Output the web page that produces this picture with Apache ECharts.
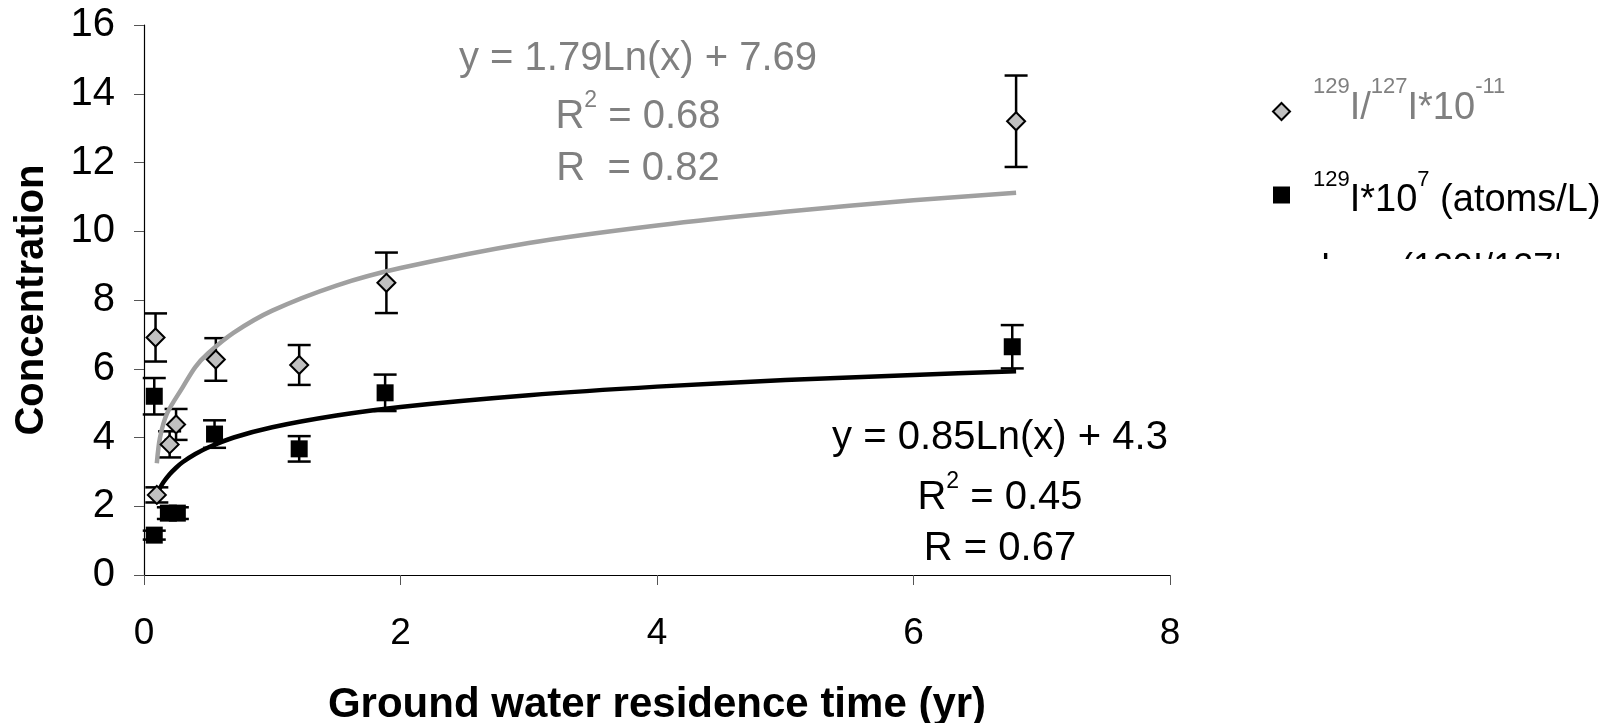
<!DOCTYPE html>
<html>
<head>
  <meta charset="utf-8">
  <title>ECharts</title>
  <script src="https://cdn.jsdelivr.net/npm/echarts@6.0.0/dist/echarts.min.js"></script>
  <style>
    body { margin: 0; background: #fff; }
  </style>
</head>
<body>
<div id="main" style="width: 1614px;height:723px;"></div>
<script type="text/javascript">
  // 129I/127I ratio (x 1e-11), grey diamonds
  var ratioX = [0.09, 0.10, 0.20, 0.25, 0.56, 1.21, 1.89, 6.80];
  var ratioY = [6.91, 2.33, 3.80, 4.38, 6.27, 6.11, 8.50, 13.20];
  var ratioErr = [0.70, 0.22, 0.38, 0.45, 0.62, 0.58, 0.88, 1.33];

  // 129I concentration (x 1e7 atoms/L), black squares
  var atomsX = [0.08, 0.08, 0.19, 0.26, 0.55, 1.21, 1.88, 6.77];
  var atomsY = [5.20, 1.16, 1.80, 1.80, 4.10, 3.67, 5.30, 6.64];
  var atomsErr = [0.53, 0.13, 0.17, 0.17, 0.40, 0.37, 0.53, 0.63];

  // log trendlines
  var grayTrendX = [0.1, 0.125, 0.18, 0.3, 0.4, 0.5, 0.7, 1, 1.5, 2, 3, 4, 5, 6, 6.8];
  var grayTrendY = [3.25, 4.0, 4.7, 5.45, 6.05, 6.45, 7.05, 7.69, 8.42, 8.93, 9.66, 10.17, 10.57, 10.9, 11.12];
  var blackTrendX = [0.1, 0.12, 0.15, 0.2, 0.25, 0.3, 0.4, 0.5, 0.7, 1, 1.5, 2, 3, 4, 5, 6, 6.8];
  var blackTrendY = [2.35, 2.5, 2.69, 2.93, 3.12, 3.28, 3.52, 3.71, 4.0, 4.3, 4.64, 4.89, 5.23, 5.48, 5.67, 5.82, 5.93];

  var xTicks = [0, 2, 4, 6, 8];
  var yTicks = [0, 2, 4, 6, 8, 10, 12, 14, 16];

  var FONT = 'Liberation Sans, Arial, sans-serif';
  var RATIO = '129I/127I*10-11';
  var ATOMS = '129I*107 (atoms/L)';

  function zip(xs, ys, es) {
    return xs.map(function (x, i) { return es ? [x, ys[i], es[i]] : [x, ys[i]]; });
  }

  function errRender(params, api) {
    var x = api.value(0), y = api.value(1), e = api.value(2);
    var hi = api.coord([x, y + e]);
    var lo = api.coord([x, y - e]);
    var w = 11.5;
    var st = { stroke: '#000', lineWidth: 2.5 };
    return {
      type: 'group',
      children: [
        { type: 'line', shape: { x1: hi[0], y1: hi[1], x2: lo[0], y2: lo[1] }, style: st },
        { type: 'line', shape: { x1: hi[0] - w, y1: hi[1], x2: hi[0] + w, y2: hi[1] }, style: st },
        { type: 'line', shape: { x1: lo[0] - w, y1: lo[1], x2: lo[0] + w, y2: lo[1] }, style: st }
      ]
    };
  }

  var supRich = {
    m: { fontSize: 40, lineHeight: 56, fontFamily: FONT },
    s: { fontSize: 23, lineHeight: 23, verticalAlign: 'top', fontFamily: FONT }
  };

  function note(txt, x, y, color) {
    return {
      type: 'text', x: x, y: y, z: 50,
      style: {
        text: txt, align: 'center', verticalAlign: 'middle',
        fill: color, fontSize: 40, fontFamily: FONT, rich: supRich
      }
    };
  }

  var myChart = echarts.init(document.getElementById('main'));

  var option = {
    animation: false,
    grid: { left: 144, right: 444, top: 25, bottom: 148, outerBoundsMode: 'none', containLabel: false },
    xAxis: {
      type: 'value', min: xTicks[0], max: xTicks[xTicks.length - 1], interval: 2,
      name: 'Ground water residence time (yr)', nameLocation: 'middle', nameGap: 109,
      nameTextStyle: { fontSize: 42, fontWeight: 'bold', fontFamily: FONT, color: '#000' },
      axisLine: { lineStyle: { color: '#000', width: 1.2 } },
      axisTick: { length: 10, lineStyle: { color: '#555' } },
      axisLabel: { fontSize: 37, fontFamily: FONT, color: '#000', margin: 40 },
      splitLine: { show: false }
    },
    yAxis: {
      type: 'value', min: yTicks[0], max: yTicks[yTicks.length - 1], interval: 2,
      name: 'Concentration', nameLocation: 'middle', nameGap: 92, nameRotate: 90,
      nameTextStyle: { fontSize: 40, fontWeight: 'bold', fontFamily: FONT, color: '#000' },
      axisLine: { show: true, lineStyle: { color: '#000', width: 1.2 } },
      axisTick: { show: true, length: 10, lineStyle: { color: '#555' } },
      axisLabel: { fontSize: 40, fontFamily: FONT, color: '#000', margin: 29 },
      splitLine: { show: false }
    },
    legend: {
      orient: 'vertical', left: 1267, top: 71, itemGap: 41,
      itemWidth: 17, itemHeight: 17, selectedMode: false,
      data: [
        { name: RATIO, textStyle: { color: '#808080', padding: [0, 0, 6, 18] } },
        { name: ATOMS, textStyle: { color: '#000', padding: [12, 0, 0, 18] } }
      ],
      formatter: function (name) {
        if (name === RATIO) return '{s|129}{m|I/}{s|127}{m|I*10}{s|-11}';
        return '{s|129}{m|I*10}{s|7}{m| (atoms/L)}';
      },
      textStyle: {
        fontSize: 38, fontFamily: FONT, padding: [0, 0, 0, 18],
        rich: {
          m: { fontSize: 38, lineHeight: 65, fontFamily: FONT },
          s: { fontSize: 22, lineHeight: 36, verticalAlign: 'top', fontFamily: FONT }
        }
      }
    },
    graphic: [
      note('y = 1.79Ln(x) + 7.69', 638, 59, '#808080'),
      note('{m|R}{s|2}{m| = 0.68}', 638, 117, '#808080'),
      note('R  = 0.82', 638, 169, '#808080'),
      note('y = 0.85Ln(x) + 4.3', 1000, 438, '#000'),
      note('{m|R}{s|2}{m| = 0.45}', 1000, 498, '#000'),
      note('R = 0.67', 1000, 549, '#000'),
      {
        type: 'text', x: 1321, y: 269, z: 50,
        style: { text: 'Log. (129I/127I*10-11)', align: 'left', verticalAlign: 'middle',
                 fill: '#000', fontSize: 36, fontFamily: FONT }
      },
      {
        type: 'rect', z: 60, shape: { x: 1290, y: 259, width: 330, height: 60 },
        style: { fill: '#fff' }
      },
      {
        type: 'rect', z: 60, shape: { x: 1559, y: 235, width: 60, height: 30 },
        style: { fill: '#fff' }
      }
    ],
    series: [
      {
        name: 'ratioErr', type: 'custom', z: 1, silent: true,
        renderItem: errRender, encode: { x: 0, y: 1 },
        data: zip(ratioX, ratioY, ratioErr)
      },
      {
        name: 'atomsErr', type: 'custom', z: 1, silent: true,
        renderItem: errRender, encode: { x: 0, y: 1 },
        data: zip(atomsX, atomsY, atomsErr)
      },
      {
        name: 'Log. ratio', type: 'line', z: 2, showSymbol: false, smooth: 0.3,
        lineStyle: { color: '#a0a0a0', width: 4.5 },
        data: zip(grayTrendX, grayTrendY)
      },
      {
        name: 'Log. atoms', type: 'line', z: 2, showSymbol: false, smooth: 0.3,
        lineStyle: { color: '#000', width: 4.5 },
        data: zip(blackTrendX, blackTrendY)
      },
      {
        name: RATIO, type: 'scatter', z: 3, symbol: 'diamond', symbolSize: 18,
        itemStyle: { color: '#c0c0c0', borderColor: '#000', borderWidth: 2, opacity: 1 },
        data: zip(ratioX, ratioY)
      },
      {
        name: ATOMS, type: 'scatter', z: 3, symbol: 'rect', symbolSize: 17,
        itemStyle: { color: '#000', opacity: 1 },
        data: zip(atomsX, atomsY)
      }
    ]
  };

  myChart.setOption(option);
</script>
</body>
</html>
